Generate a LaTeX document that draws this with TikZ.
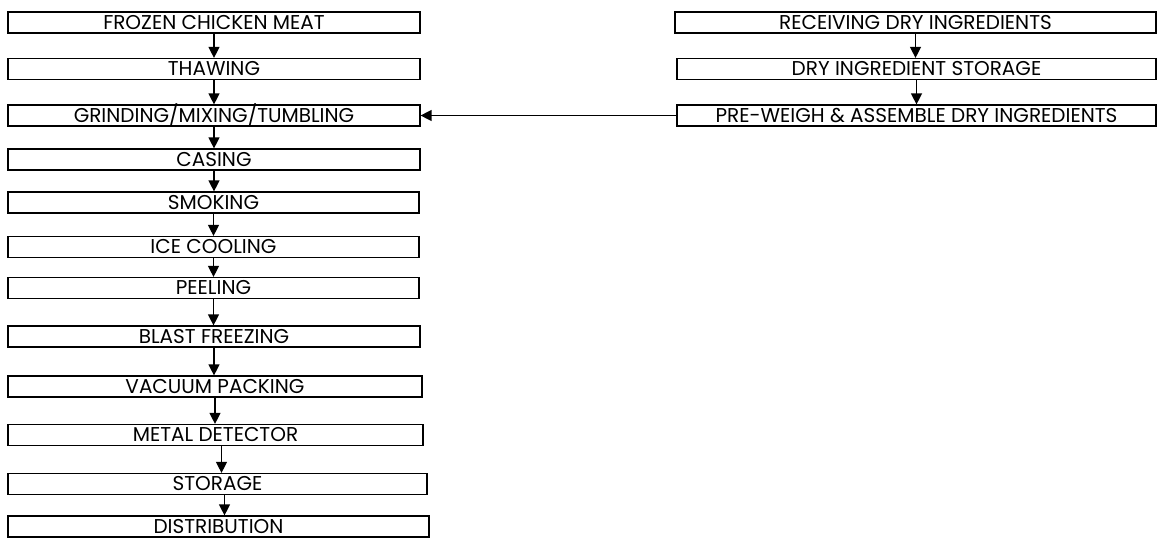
\documentclass[tikz,border=0pt]{standalone}
\usepackage{fontspec}
\setmainfont{Poppins}
\usetikzlibrary{arrows.meta}

\begin{document}
\begin{tikzpicture}[x=1pt,y=-1pt,
    stepbox/.style={draw,line width=1.2pt,inner sep=0pt,minimum height=21pt,
      text height=13.6pt,text depth=0pt,font=\fontsize{20}{21}\selectfont},
    flow/.style={line width=1.3pt,-{Triangle[length=11pt,width=11pt]}}]
      \useasboundingbox (0,0) rectangle (1158,540);
      % main line
      \node[stepbox,minimum width=412pt](frozen) at (214,22.5){FROZEN CHICKEN MEAT};
      \node[stepbox,minimum width=412pt](thawing) at (214,69){THAWING};
      \node[stepbox,minimum width=412pt](grinding) at (214,115.5){GRINDING/MIXING/TUMBLING};
      \node[stepbox,minimum width=412pt](casing) at (214,159.5){CASING};
      \node[stepbox,minimum width=411pt](smoking) at (213.5,202.5){SMOKING};
      \node[stepbox,minimum width=411pt](icecool) at (213.5,247){ICE COOLING};
      \node[stepbox,minimum width=411pt](peeling) at (213.5,288){PEELING};
      \node[stepbox,minimum width=412pt](blast) at (214,336.5){BLAST FREEZING};
      \node[stepbox,minimum width=414pt](vacuum) at (215,386.5){VACUUM PACKING};
      \node[stepbox,minimum width=415pt](metal) at (215.5,435){METAL DETECTOR};
      \node[stepbox,minimum width=419pt](storage) at (217.5,484){STORAGE};
      \node[stepbox,minimum width=421pt](distrib) at (218.5,526.5){DISTRIBUTION};
      % dry ingredients
      \node[stepbox,minimum width=481pt](receiving) at (915.5,22.5){RECEIVING DRY INGREDIENTS};
      \node[stepbox,minimum width=479pt](drystore) at (916.5,69){DRY INGREDIENT STORAGE};
      \node[stepbox,minimum width=479pt](preweigh) at (916.5,115.5){PRE-WEIGH \& ASSEMBLE DRY INGREDIENTS};
      % connectors
      \draw[flow] (frozen) -- (frozen |- thawing.north);
      \draw[flow] (thawing) -- (thawing |- grinding.north);
      \draw[flow] (grinding) -- (grinding |- casing.north);
      \draw[flow] (casing) -- (casing |- smoking.north);
      \draw[flow] (smoking) -- (smoking |- icecool.north);
      \draw[flow] (icecool) -- (icecool |- peeling.north);
      \draw[flow] (peeling) -- (peeling |- blast.north);
      \draw[flow] (blast) -- (blast |- vacuum.north);
      \draw[flow] (vacuum) -- (vacuum |- metal.north);
      \draw[flow] (metal.south) ++(6,0) coordinate (mt) -- (mt |- storage.north);
      \draw[flow] (storage.south) ++(7,0) coordinate (st) -- (st |- distrib.north);
      \draw[flow] (receiving) -- (receiving |- drystore.north);
      \draw[flow] (drystore) -- (drystore |- preweigh.north);
      \draw[flow] (preweigh) -- (grinding);
\end{tikzpicture}
\end{document}
